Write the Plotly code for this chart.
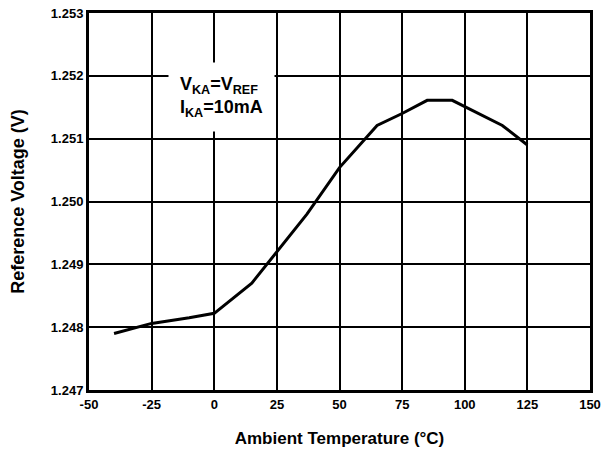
import plotly.graph_objects as go

temperature_c = [-40, -25, -10, 0, 15, 25, 37, 50, 65, 75, 85, 95, 115, 125]
ref_voltage_v = [1.2479, 1.24806, 1.24815, 1.24822, 1.2487, 1.2492, 1.2498, 1.25054,
                 1.25121, 1.2514, 1.25161, 1.25161, 1.25121, 1.2509]
x_ticks = [-50, -25, 0, 25, 50, 75, 100, 125, 150]
y_ticks = [1.247, 1.248, 1.249, 1.250, 1.251, 1.252, 1.253]
y_tick_labels = ["1.247", "1.248", "1.249", "1.250", "1.251", "1.252", "1.253"]

FONT = "Liberation Sans, Arial"

fig = go.Figure()
fig.add_trace(go.Scatter(x=temperature_c, y=ref_voltage_v, mode="lines",
                         line=dict(color="black", width=3), showlegend=False))

fig.add_annotation(
    x=-18.5, y=1.25222, xref="x", yref="y", xanchor="left", yanchor="top",
    text="V<sub>KA</sub>=V<sub>REF</sub><br>I<sub>KA</sub>=10mA",
    showarrow=False, align="left", bgcolor="white", borderpad=11,
    font=dict(family=FONT, size=18, color="black", weight="bold"),
)

axis_common = dict(
    showgrid=True, gridcolor="black", gridwidth=2,
    showline=True, linecolor="black", linewidth=3, mirror=True,
    zeroline=False, ticks="", automargin=False, ticklabeloverflow="allow",
    tickfont=dict(family=FONT, size=13, color="black", weight="bold"),
)

fig.update_xaxes(range=[-50, 150], tickvals=x_ticks, ticktext=[str(v) for v in x_ticks],
                 title=dict(text="Ambient Temperature (°C)", standoff=22,
                            font=dict(family=FONT, size=17, color="black", weight="bold")),
                 **axis_common)
fig.update_yaxes(range=[1.247, 1.253], tickvals=y_ticks, ticktext=y_tick_labels,
                 title=dict(text="Reference Voltage (V)", standoff=22,
                            font=dict(family=FONT, size=18, color="black", weight="bold")),
                 **axis_common)

fig.update_layout(
    width=603, height=452,
    margin=dict(l=89, r=13, t=13, b=62),
    paper_bgcolor="white", plot_bgcolor="white",
)

fig.write_html("out.html", config={"displayModeBar": False},
               post_script="document.body.style.margin='0';")
